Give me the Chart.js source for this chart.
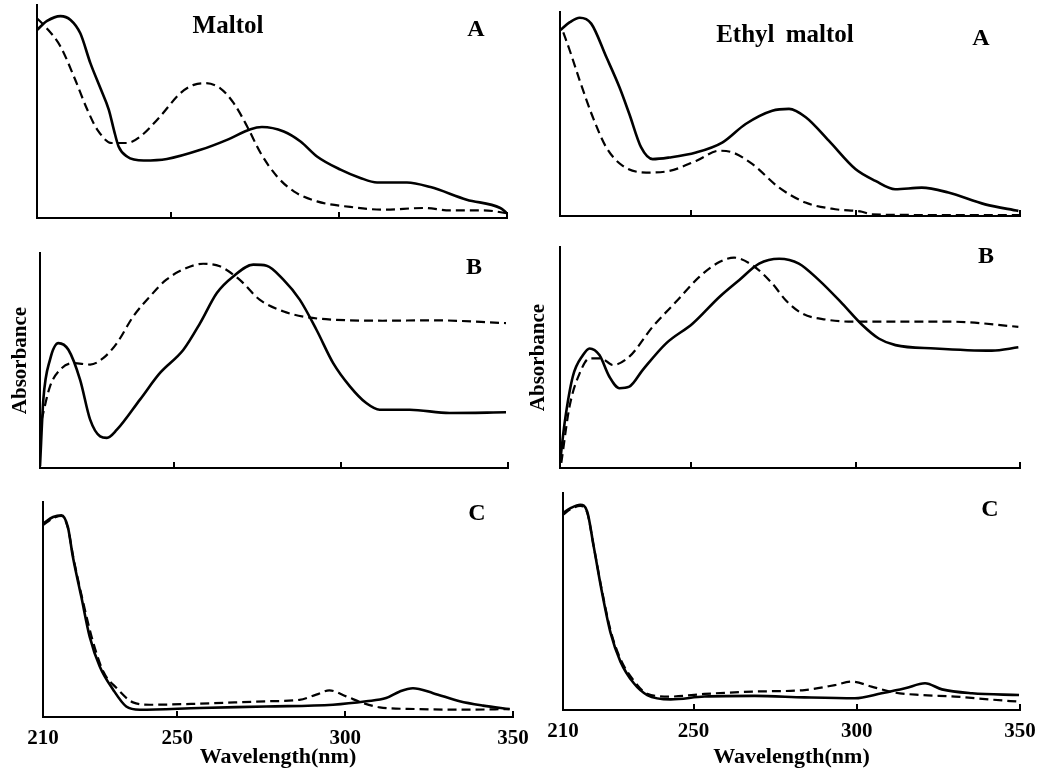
<!DOCTYPE html>
<html>
<head>
<meta charset="utf-8">
<script src="https://cdn.jsdelivr.net/npm/chart.js@4.4.1/dist/chart.umd.min.js"></script>
<style>
  html, body { margin: 0; padding: 0; background: #fff; }
  #wrap { position: relative; width: 1055px; height: 780px; overflow: hidden; background: #fff; }
  canvas { position: absolute; }
  .lbl { position: absolute; transform: translate(-50%, -50%); font-family: "Liberation Serif", serif;
         font-weight: bold; line-height: 1; white-space: nowrap; color: #000; }
</style>
</head>
<body>
<div id="wrap">
  <canvas id="malA"></canvas>
  <canvas id="malB"></canvas>
  <canvas id="malC"></canvas>
  <canvas id="ethA"></canvas>
  <canvas id="ethB"></canvas>
  <canvas id="ethC"></canvas>

  <div class="lbl" style="left:228px;top:24px;font-size:25px;">Maltol</div>
  <div class="lbl" style="left:785px;top:33px;font-size:25px;word-spacing:5px;">Ethyl maltol</div>
  <div class="lbl" style="left:476px;top:28px;font-size:24px;">A</div>
  <div class="lbl" style="left:981px;top:37px;font-size:24px;">A</div>
  <div class="lbl" style="left:474px;top:266px;font-size:24px;">B</div>
  <div class="lbl" style="left:986px;top:255px;font-size:24px;">B</div>
  <div class="lbl" style="left:477px;top:512px;font-size:24px;">C</div>
  <div class="lbl" style="left:990px;top:508px;font-size:24px;">C</div>
</div>
<script>
const xTicks = [210, 250, 300, 350];

// Maltol, panel A
const malA_solidNm  = [210, 213, 217, 220, 222.9, 225.9, 228.9, 231.4, 232.9, 234.3, 236.8, 241.8, 248.7, 258.7, 266.6, 273.6, 277, 283.5, 288.5, 293.4, 300.4, 306.3, 311.3, 320.2, 327.2, 338, 348, 350];
const malA_solidAbs = [88.3, 92.5, 94.8, 93, 86.7, 72.7, 60.9, 50.8, 41.4, 33.6, 28.9, 27, 27.7, 32, 36.7, 41.7, 42.7, 40.6, 35.9, 28.9, 22.7, 18.8, 16.7, 16.7, 14.5, 8.6, 4.7, 2.3];
const malA_dashNm   = [210, 212.5, 217, 221, 225, 228, 232.3, 236.8, 240.8, 246.7, 252.7, 256.7, 260.1, 264.6, 268.6, 272.6, 276.6, 281.5, 286.5, 293.4, 303.3, 313.2, 325.1, 333, 343, 350];
const malA_dashAbs  = [93.8, 89.8, 80.5, 66.4, 50.8, 41.4, 35.2, 35.2, 38.3, 47.7, 58.6, 62.5, 63.3, 60.9, 53.9, 43, 30.5, 19.5, 12.5, 7.8, 5.2, 3.9, 4.7, 3.6, 3.6, 2.3];

// Maltol, panel B
const malB_solidNm  = [210, 211, 213, 215.5, 218.5, 222, 225, 228, 230, 233, 239.9, 245.9, 252.9, 257.9, 262.9, 267.8, 273.8, 277.8, 282.8, 287.7, 292.7, 297.7, 302.7, 307.6, 311.6, 320.6, 332.5, 349.4];
const malB_solidAbs = [0.8, 31.8, 50.4, 58.1, 55, 41, 22.5, 14.7, 14, 17.8, 31.8, 44.2, 55, 67.4, 81.4, 89.1, 94.6, 94.1, 87.6, 78.3, 64.3, 48.8, 38, 30.2, 27.1, 27.1, 25.6, 25.9];
const malB_dashNm   = [210.5, 213, 216, 220, 225, 229, 233, 237.9, 242.9, 247.8, 253.8, 258.8, 263.8, 269.7, 275.7, 282.7, 289.6, 297.6, 312.5, 327.5, 349.4];
const malB_dashAbs  = [22.5, 38, 45.7, 48.8, 48.1, 51.2, 58.1, 70.5, 79.8, 87.6, 93, 95, 93.8, 87.6, 78.3, 72.9, 70.2, 69, 68.5, 68.7, 67.4];

// Maltol, panel C
const malC_solidNm  = [210, 213, 215.5, 217.4, 218.9, 221.4, 223.9, 226.9, 230.9, 234.8, 238.8, 256.7, 276.5, 296.4, 306.3, 312.2, 316.3, 320.2, 326.2, 334.1, 341.1, 349];
const malC_solidAbs = [90, 93, 93.8, 88.4, 74.5, 56, 37.4, 23.5, 12.7, 4.9, 3.4, 4.2, 4.9, 5.7, 7.3, 8.8, 11.9, 13.4, 11.1, 7.3, 5.3, 3.7];
const malC_dashNm   = [210, 213, 215.5, 217.4, 219, 221.5, 224.9, 228, 231.9, 236.8, 241.8, 256.7, 276.5, 286.4, 291.4, 295.3, 300.3, 305.3, 310.3, 321.2, 336.1, 349];
const malC_dashAbs  = [89.2, 92.5, 93.5, 88, 74.5, 56.5, 35, 21, 13.5, 6.8, 5.7, 6.2, 7.3, 8, 10.4, 12.4, 9.6, 6.5, 4.5, 3.7, 3.4, 3.7];

// Ethyl maltol, panel A
const ethA_solidNm  = [210, 213, 216, 219.5, 224.1, 228.1, 231.1, 234.7, 238.2, 243.3, 251.4, 259.5, 266.5, 274.6, 279.7, 284.8, 291.8, 299.9, 306, 312, 320.1, 328.2, 339.4, 349.5];
const ethA_solidAbs = [91, 95, 97.2, 94.3, 77.9, 63.1, 50, 33.6, 27.9, 28.7, 31.1, 36.1, 45.1, 51.6, 52.5, 48.4, 36.9, 23, 17.2, 13.1, 13.9, 11.5, 5.7, 2.5];
const ethA_dashNm   = [211, 213, 216, 220, 224.1, 229.1, 236.2, 243.3, 251.4, 258.5, 262.6, 268.6, 276.7, 284.7, 293.8, 301.9, 305, 320, 335, 350];
const ethA_dashAbs  = [90, 81, 66.4, 48.4, 33.6, 24.6, 21.3, 22.1, 27, 32, 31.1, 25.4, 13.9, 6.6, 3.3, 2.1, 0.8, 0.5, 0.5, 0.5];

// Ethyl maltol, panel B
const ethB_solidNm  = [210, 211.4, 213.9, 217, 219, 222, 225, 228.1, 231.1, 235.2, 242.3, 250.4, 258.5, 264.5, 270.6, 276.7, 282.7, 288.8, 295.9, 302, 307, 312.1, 324.2, 341.4, 349.5];
const ethB_solidAbs = [2.3, 20.3, 41.4, 51.1, 54.1, 51.1, 41.4, 36.1, 36.8, 44.4, 56.4, 65.4, 77.4, 85, 92.5, 94.7, 92.5, 85, 74.4, 64.7, 58.6, 55.6, 54.1, 53.1, 54.6];
const ethB_dashNm   = [210.4, 212.9, 216, 219, 222.5, 226.1, 231.1, 238.2, 245.3, 252.4, 258.5, 263, 268.6, 274.6, 278.7, 283.7, 290.8, 298.9, 314.1, 329.3, 349.5];
const ethB_dashAbs  = [2.3, 27.8, 42.9, 49.6, 49.6, 46.6, 50.4, 63.9, 75.2, 86.5, 93.2, 95.2, 91.7, 83.5, 75.9, 69.9, 67.2, 66.2, 66.2, 66.2, 63.9];

// Ethyl maltol, panel C
const ethC_solidNm  = [210, 212.3, 215.3, 217.4, 219.4, 222, 224.6, 227.6, 231.7, 235.8, 243, 253.3, 268.7, 284, 299.4, 307.6, 314.8, 320.9, 326.1, 335.3, 349.7];
const ethC_solidAbs = [90.8, 93, 94.6, 91.5, 75.4, 53.8, 35.4, 22.3, 12.3, 6.9, 4.9, 6.2, 6.5, 5.8, 5.4, 7.7, 10, 12.3, 9.5, 7.7, 6.9];
const ethC_dashNm   = [210, 212.3, 215.3, 217.4, 219.4, 222, 224.6, 227.6, 231.7, 235.8, 243, 253.3, 268.7, 284, 293.3, 298.4, 304.5, 311.7, 319.9, 330.1, 340.4, 350];
const ethC_dashAbs  = [90, 92.5, 94, 91, 75.5, 54.5, 36.5, 23.5, 13.5, 7.5, 6.2, 7.4, 8.5, 9.2, 11.5, 13.1, 10.8, 8, 6.9, 6.2, 4.9, 3.8];

// where each panel goes on the page (canvas box + plot area edges)
const panels = [
  { id: 'malA', left: 0,   top: 0,   w: 545, h: 240, areaL: 37,  areaT: 5,   areaR: 507,  areaB: 218, s: [malA_solidNm, malA_solidAbs], d: [malA_dashNm, malA_dashAbs] },
  { id: 'malB', left: 0,   top: 240, w: 545, h: 240, areaL: 40,  areaT: 253, areaR: 508,  areaB: 468, s: [malB_solidNm, malB_solidAbs], d: [malB_dashNm, malB_dashAbs], yTitle: 8 },
  { id: 'malC', left: 0,   top: 480, w: 545, h: 300, areaL: 43,  areaT: 502, areaR: 513,  areaB: 717, s: [malC_solidNm, malC_solidAbs], d: [malC_dashNm, malC_dashAbs], bottom: true },
  { id: 'ethA', left: 520, top: 0,   w: 535, h: 240, areaL: 560, areaT: 12,  areaR: 1020, areaB: 216, s: [ethA_solidNm, ethA_solidAbs], d: [ethA_dashNm, ethA_dashAbs] },
  { id: 'ethB', left: 520, top: 240, w: 535, h: 240, areaL: 560, areaT: 247, areaR: 1020, areaB: 468, s: [ethB_solidNm, ethB_solidAbs], d: [ethB_dashNm, ethB_dashAbs], yTitle: 6 },
  { id: 'ethC', left: 520, top: 480, w: 535, h: 300, areaL: 563, areaT: 493, areaR: 1020, areaB: 710, s: [ethC_solidNm, ethC_solidAbs], d: [ethC_dashNm, ethC_dashAbs], bottom: true }
];

const pts = (xs, ys) => xs.map((x, i) => ({ x: x, y: ys[i] }));
const serif = 'Liberation Serif';

panels.forEach(p => {
  const cv = document.getElementById(p.id);
  cv.width = p.w; cv.height = p.h;
  cv.style.left = p.left + 'px'; cv.style.top = p.top + 'px';
  cv.style.width = p.w + 'px'; cv.style.height = p.h + 'px';

  const yW = p.areaL - p.left;
  const xH = p.top + p.h - p.areaB;

  new Chart(cv, {
    type: 'line',
    data: {
      datasets: [
        { data: pts(p.s[0], p.s[1]), borderColor: '#000', borderWidth: 2.6, pointRadius: 0,
          cubicInterpolationMode: 'monotone', fill: false },
        { data: pts(p.d[0], p.d[1]), borderColor: '#000', borderWidth: 2.2, borderDash: [9, 5], pointRadius: 0,
          cubicInterpolationMode: 'monotone', fill: false }
      ]
    },
    options: {
      responsive: false,
      animation: false,
      events: [],
      layout: { padding: { left: 0, bottom: 0, top: p.areaT - p.top, right: p.left + p.w - p.areaR } },
      plugins: { legend: { display: false }, tooltip: { enabled: false } },
      scales: {
        x: {
          type: 'linear', min: 210, max: 350,
          afterBuildTicks: s => { s.ticks = xTicks.map(v => ({ value: v })); },
          grid: { display: true, drawOnChartArea: false, drawTicks: true, tickLength: -6, color: '#000', lineWidth: 2 },
          border: { display: true, color: '#000', width: 2 },
          ticks: { display: !!p.bottom, padding: 15, color: '#000', autoSkip: false, maxRotation: 0,
                   font: { family: serif, weight: 'bold', size: 21 } },
          title: { display: !!p.bottom, text: 'Wavelength(nm)', color: '#000', padding: { top: 0, bottom: 9 },
                   font: { family: serif, weight: 'bold', size: 22 } },
          afterFit: s => { s.height = xH; s.paddingLeft = 0; s.paddingRight = 0; }
        },
        y: {
          min: 0, max: 100,
          grid: { display: false, drawTicks: false },
          border: { display: true, color: '#000', width: 2 },
          ticks: { display: false },
          title: { display: p.yTitle !== undefined, text: 'Absorbance', color: '#000',
                   padding: { top: p.yTitle || 0, bottom: 0 },
                   font: { family: serif, weight: 'bold', size: 21 } },
          afterFit: s => { s.width = yW; }
        }
      }
    }
  });
});
</script>
</body>
</html>
